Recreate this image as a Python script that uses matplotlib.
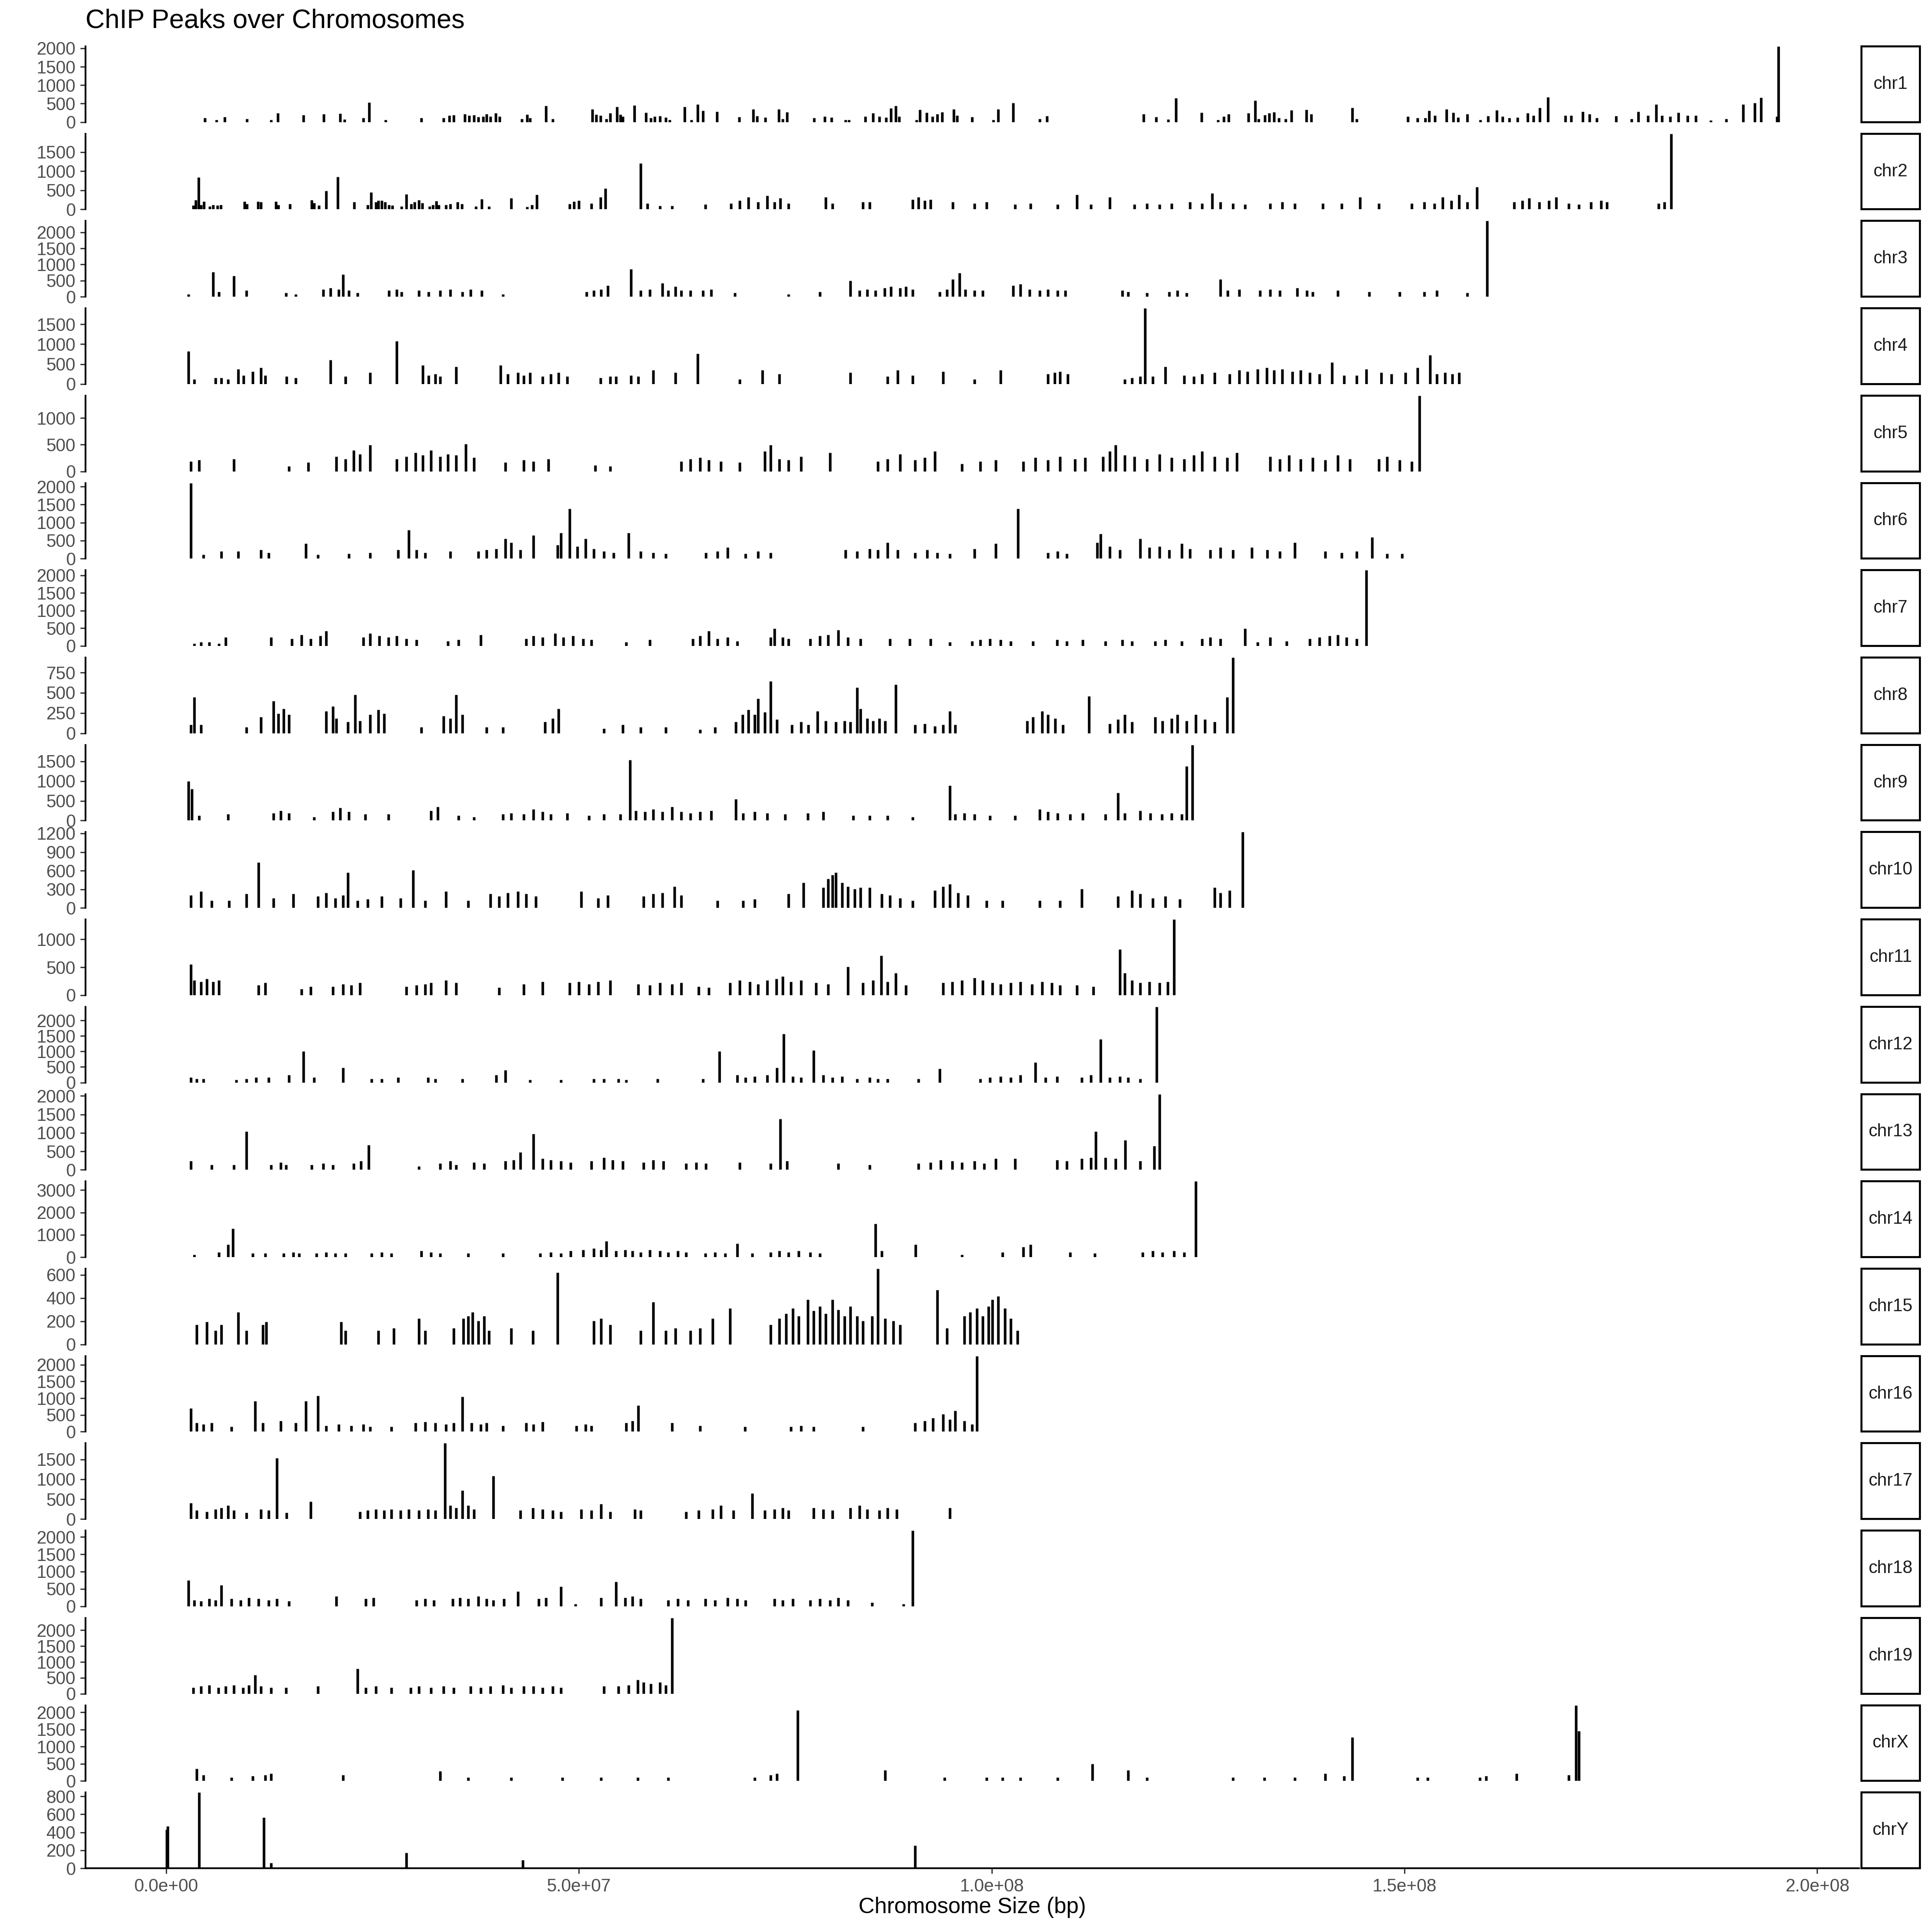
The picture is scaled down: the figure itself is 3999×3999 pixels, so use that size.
import matplotlib
matplotlib.use("Agg")
import matplotlib.pyplot as plt
from matplotlib.ticker import MultipleLocator, FuncFormatter
from matplotlib.patches import Rectangle

plt.rcParams['font.family'] = ['Liberation Sans', 'DejaVu Sans']

# peak positions (Mb) and peak scores
chr1_pos = [4.7, 6.1, 7.1, 9.8, 12.7, 13.5, 16.6, 19.1, 21.1, 21.6, 23.9, 24.6, 26.6, 30.9, 33.6, 34.3, 34.8,
            36.2, 36.7, 37.3, 37.8, 38.4, 38.8, 39.3, 39.9, 40.4, 43.1, 43.7, 44.1, 46.0, 46.8,
            51.6, 52.1, 52.6, 53.3, 53.8, 54.6, 55.0, 55.3, 56.7, 58.1, 58.7, 59.2, 59.8, 60.5, 61.0,
            62.8, 63.6, 64.4, 65.0, 66.7, 69.4, 71.1, 71.6, 72.6, 74.2, 74.7, 75.2, 78.5,
            79.8, 80.6, 82.3, 82.7, 84.7, 85.6, 86.4, 87.2, 87.8, 88.4, 88.8, 90.9, 91.3, 92.1, 92.8, 93.4, 94.0,
            95.4, 95.8, 97.6, 100.2, 100.8, 102.6, 105.8, 106.7,
            118.4, 119.9, 121.4, 122.3, 125.4, 127.4, 128.1, 128.7, 131.1, 131.9, 132.3, 133.1, 133.6, 134.2,
            134.8, 135.6, 136.3, 138.1, 138.7, 143.7, 144.2,
            150.4, 151.6, 152.5, 153.0, 153.7, 155.1, 155.9, 156.5, 157.6, 159.2, 160.1, 161.2, 161.9, 162.7,
            163.7, 164.9, 165.6, 166.4, 167.4, 169.5, 170.2, 171.6, 172.4, 173.3, 175.6, 177.5, 178.3, 179.5,
            180.5, 181.2, 182.2, 183.2, 184.3, 185.3, 187.1, 189.0, 191.0, 192.4, 193.2, 195.1, 195.3]
chr1_val = [109, 65, 140, 90, 65, 250, 190, 225, 235, 80, 110, 535, 65, 110, 110, 175, 190,
            225, 175, 195, 140, 150, 215, 150, 250, 150, 87, 210, 110, 435, 87,
            355, 210, 175, 87, 240, 410, 200, 155, 455, 260, 110, 150, 165, 130, 65,
            415, 65, 485, 315, 290, 140, 350, 165, 130, 350, 87, 270, 110,
            150, 130, 65, 65, 150, 250, 150, 130, 370, 435, 150, 65, 340, 260, 150, 215, 270,
            355, 175, 140, 65, 350, 520, 87, 165,
            220, 140, 78, 645, 260, 65, 150, 225, 240, 590, 87, 195, 240, 270,
            110, 87, 325, 340, 220, 385, 87,
            150, 110, 110, 305, 175, 355, 260, 130, 225, 65, 165, 325, 150, 110,
            130, 240, 175, 390, 675, 175, 175, 280, 215, 110, 165, 87, 280, 175,
            480, 175, 150, 260, 175, 185, 52, 87, 480, 520, 660, 150, 2050]

chr2_pos = [3.3, 3.6, 3.9, 4.2, 4.6, 5.3, 5.7, 6.2, 6.6, 9.5, 9.8, 11.1, 11.5, 13.3, 13.6, 15.0, 17.6, 17.9,
            18.5, 19.4, 20.8, 22.8, 24.4, 24.8, 25.4, 25.7, 26.1, 26.5, 27.0, 27.4, 28.5, 29.1, 29.7, 30.1,
            30.6, 31.0, 31.9, 32.3, 32.7, 33.0, 33.9, 34.4, 35.3, 35.8, 37.5, 38.2, 39.1, 41.8, 43.7, 44.3,
            44.9, 48.9, 49.4, 50.0, 51.5, 52.6, 53.2, 57.5, 58.3, 59.8, 61.3, 65.3, 68.4, 69.5, 70.5, 71.7,
            72.8, 73.7, 74.4, 75.4, 79.9, 80.7, 84.4, 85.2, 90.4, 91.1, 91.9, 92.6, 95.3, 97.9, 99.4, 102.8,
            104.7, 108.0, 110.3, 112.0, 114.3, 117.3, 118.8, 120.3, 121.8, 124.0, 125.5, 126.7, 127.7, 129.2,
            130.7, 133.7, 135.2, 136.7, 140.1, 142.4, 144.6, 146.9, 150.9, 152.4, 153.6, 154.6, 155.7, 156.6,
            157.6, 158.8, 163.3, 164.3, 165.1, 166.3, 167.5, 168.4, 169.9, 171.1, 172.6, 173.8, 174.5, 180.8,
            181.5, 182.3]
chr2_val = [105, 250, 840, 125, 210, 85, 125, 105, 115, 210, 150, 210, 190, 210, 125, 150, 250, 170,
            105, 490, 850, 190, 125, 445, 190, 230, 230, 190, 125, 105, 85, 400, 145, 190,
            250, 170, 85, 125, 220, 125, 125, 145, 190, 145, 85, 275, 85, 295, 65, 125,
            380, 145, 210, 230, 160, 325, 550, 1200, 160, 100, 100, 130, 160, 230, 325, 195,
            360, 195, 290, 160, 325, 160, 195, 195, 260, 325, 230, 260, 195, 160, 195, 130,
            160, 130, 390, 130, 325, 130, 160, 130, 160, 195, 160, 420, 195, 160,
            130, 160, 195, 160, 160, 160, 325, 160, 160, 195, 160, 325, 230, 390,
            195, 585, 195, 230, 290, 195, 230, 325, 160, 130, 195, 230, 195, 160,
            195, 1980]

chr3_pos = [2.7, 5.7, 6.4, 8.2, 9.7, 14.5, 15.7, 19.0, 19.9, 20.9, 21.4, 22.1, 23.2, 27.0, 27.9, 28.5, 30.6,
            31.8, 33.2, 34.4, 35.9, 36.9, 38.2, 40.8, 50.9, 51.8, 52.7, 53.5, 56.3, 57.5, 58.6, 60.1, 60.8,
            61.7, 62.4, 63.5, 65.0, 66.0, 68.9, 75.4, 79.2, 82.9, 84.0, 84.9, 85.9, 87.0, 87.8, 88.9, 89.6,
            90.4, 93.7, 94.6, 95.3, 96.1, 96.8, 97.9, 98.9, 102.6, 103.5, 104.6, 105.8, 106.8, 108.0, 108.9,
            115.8, 116.5, 118.8, 121.5, 122.5, 123.6, 127.7, 128.6, 130.0, 132.5, 133.7, 134.9, 137.0, 138.2,
            138.9, 141.9, 145.7, 149.4, 152.4, 153.9, 157.6, 160.0]
chr3_val = [77, 770, 150, 650, 190, 115, 77, 230, 270, 230, 690, 190, 115, 190, 230, 150, 190,
            150, 190, 230, 150, 230, 190, 77, 150, 190, 230, 350, 850, 190, 230, 420, 190,
            310, 190, 190, 190, 230, 115, 77, 150, 500, 190, 230, 190, 270, 310, 270, 310,
            230, 150, 230, 540, 730, 230, 190, 190, 350, 385, 230, 190, 230, 190, 190,
            190, 150, 115, 150, 190, 115, 540, 190, 230, 190, 230, 190, 270, 190,
            150, 190, 150, 150, 150, 190, 115, 2350]

chr4_pos = [2.7, 3.4, 6.0, 6.7, 7.5, 8.7, 9.4, 10.5, 11.5, 12.0, 14.6, 15.7, 19.9, 21.7, 24.7, 27.9, 31.1,
            31.8, 32.6, 33.2, 35.1, 40.5, 41.4, 42.6, 43.3, 44.1, 45.6, 46.6, 47.5, 48.6, 52.6, 53.8, 54.5,
            56.3, 57.2, 59.0, 61.7, 64.4, 69.5, 72.2, 74.3, 82.9, 87.4, 88.6, 90.4, 94.1, 97.9, 101.1, 106.8,
            107.6, 108.3, 109.2, 116.1, 117.0, 118.0, 118.6, 119.5, 121.0, 123.3, 124.5, 125.5, 127.0, 128.8,
            130.0, 131.0, 132.2, 133.3, 134.2, 135.2, 136.4, 137.4, 138.5, 139.7, 141.2, 142.7, 144.2, 145.4,
            147.2, 148.4, 150.1, 151.6, 153.1, 153.9, 154.9, 155.8, 156.6]
chr4_val = [820, 125, 160, 160, 125, 380, 220, 315, 410, 220, 190, 160, 600, 190, 285, 1075, 475,
            220, 250, 190, 440, 475, 250, 285, 220, 285, 190, 250, 285, 190, 160, 190, 190,
            220, 190, 350, 285, 760, 125, 350, 250, 285, 190, 350, 220, 315, 125, 350, 250,
            285, 315, 250, 125, 160, 190, 1900, 190, 440, 220, 190, 250, 285, 250,
            350, 315, 380, 410, 350, 380, 315, 350, 285, 250, 540, 220, 220, 380,
            285, 250, 285, 410, 730, 250, 285, 250, 285]

chr5_pos = [3.0, 4.0, 8.2, 14.9, 17.2, 20.6, 21.7, 22.7, 23.5, 24.7, 27.9, 29.1, 30.2, 31.1, 32.1, 33.2, 34.1,
            35.1, 36.3, 37.3, 41.1, 43.3, 44.5, 46.3, 52.0, 53.8, 62.4, 63.5, 64.7, 65.7, 67.2, 69.5, 72.5,
            73.2, 74.3, 75.4, 76.9, 80.4, 86.2, 87.4, 88.9, 90.7, 91.9, 93.1, 96.4, 98.6, 100.5, 103.8, 105.3,
            106.8, 108.3, 110.1, 111.3, 113.5, 114.3, 115.0, 116.1, 117.3, 118.8, 120.3, 121.8, 123.3, 124.5,
            125.5, 127.0, 128.5, 129.7, 133.7, 134.9, 136.0, 137.4, 138.9, 140.4, 141.9, 143.4, 146.9, 147.9,
            149.4, 150.9, 151.8]
chr5_val = [185, 210, 235, 95, 165, 280, 235, 395, 325, 490, 235, 280, 350, 300, 395, 280, 325,
            300, 510, 255, 165, 210, 185, 235, 115, 95, 185, 235, 255, 210, 185, 165, 375,
            490, 235, 210, 280, 350, 185, 235, 325, 210, 255, 375, 140, 185, 210, 185, 255,
            210, 280, 235, 255, 280, 375, 490, 300, 280, 235, 325, 255, 235, 300,
            375, 280, 255, 350, 280, 235, 300, 235, 255, 210, 300, 235, 235, 280,
            210, 185, 1420]

chr6_pos = [3.0, 4.5, 6.7, 8.7, 11.5, 12.4, 16.9, 18.4, 22.1, 24.7, 28.1, 29.4, 30.3, 31.4, 34.4, 37.8, 38.8,
            40.0, 41.1, 41.8, 42.9, 44.5, 47.4, 47.8, 48.9, 49.8, 50.8, 51.8, 53.0, 54.2, 56.0, 57.5, 59.0,
            60.5, 65.4, 66.8, 68.0, 70.2, 71.7, 73.2, 82.3, 83.7, 85.2, 86.2, 87.4, 88.6, 90.7, 92.2, 93.4,
            94.9, 97.9, 100.5, 103.2, 106.8, 108.0, 109.1, 112.8, 113.2, 114.3, 115.5, 118.0, 119.1, 120.3,
            121.5, 123.0, 124.0, 126.5, 127.7, 129.2, 131.5, 133.4, 134.9, 136.7, 140.4, 142.4, 144.2, 146.1,
            147.9, 149.7]
chr6_val = [2100, 105, 205, 205, 240, 170, 415, 105, 140, 170, 240, 790, 240, 170, 205, 205, 240,
            275, 550, 450, 240, 650, 380, 720, 1380, 345, 550, 275, 205, 170, 720, 205, 170,
            140, 170, 205, 310, 140, 205, 170, 240, 205, 275, 240, 450, 240, 170, 240, 170,
            140, 275, 415, 1380, 170, 205, 140, 450, 690, 345, 240, 550, 310, 345,
            240, 415, 275, 240, 310, 240, 310, 240, 205, 450, 205, 170, 205, 590,
            140, 140]

chr7_pos = [3.4, 4.2, 5.2, 6.4, 7.2, 12.7, 15.2, 16.4, 17.5, 18.7, 19.4, 23.9, 24.7, 25.8, 26.9, 27.9, 29.1,
            30.3, 34.1, 35.4, 38.1, 43.6, 44.5, 45.6, 47.1, 48.1, 49.3, 50.5, 51.5, 55.7, 58.6, 63.8, 64.7,
            65.7, 66.8, 68.0, 69.2, 73.2, 73.7, 74.7, 75.4, 78.0, 79.2, 80.2, 81.4, 82.6, 84.1, 87.7, 90.1,
            92.6, 94.9, 97.6, 98.6, 99.8, 101.1, 102.3, 105.0, 107.9, 109.1, 111.0, 113.8, 115.8, 117.0,
            119.8, 121.0, 123.0, 125.5, 126.5, 127.7, 130.7, 132.2, 133.7, 135.7, 138.5, 139.7, 140.9, 141.9,
            143.0, 144.2, 145.4]
chr7_val = [70, 105, 105, 70, 245, 245, 210, 315, 210, 280, 420, 245, 350, 280, 245, 280, 210,
            175, 140, 175, 315, 210, 280, 245, 350, 245, 280, 210, 175, 105, 175, 210, 280,
            420, 210, 245, 140, 245, 490, 245, 210, 210, 280, 315, 455, 245, 210, 210, 210,
            210, 105, 140, 175, 210, 175, 140, 140, 175, 140, 175, 140, 175, 140,
            140, 175, 140, 210, 245, 210, 490, 105, 245, 140, 210, 245, 280, 315,
            245, 210, 2140]

chr8_pos = [3.0, 3.4, 4.2, 9.7, 11.5, 13.0, 13.6, 14.2, 14.9, 19.4, 20.2, 20.6, 22.0, 22.9, 23.5, 24.7, 25.7,
            26.4, 30.9, 33.6, 34.4, 35.1, 35.9, 38.8, 40.8, 45.9, 46.8, 47.5, 53.0, 55.3, 57.5, 60.5, 64.7,
            66.5, 69.0, 69.8, 70.5, 71.3, 71.7, 72.5, 73.2, 74.0, 75.8, 76.9, 77.8, 78.9, 79.9, 81.1, 82.2,
            82.9, 83.7, 84.1, 84.9, 85.6, 86.4, 87.1, 88.4, 90.7, 91.9, 93.1, 94.1, 94.9, 95.6, 104.3, 105.0,
            106.1, 106.8, 107.7, 108.6, 111.8, 114.3, 115.3, 116.1, 117.0, 119.8, 120.7, 121.8, 122.5, 123.6,
            124.7, 125.8, 127.0, 128.5, 129.2]
chr8_val = [105, 445, 105, 75, 200, 400, 245, 305, 230, 275, 335, 185, 140, 475, 155, 230, 290,
            245, 75, 215, 185, 475, 230, 75, 75, 140, 185, 305, 60, 105, 75, 75, 45,
            75, 140, 230, 290, 230, 430, 260, 640, 170, 105, 140, 105, 275, 155, 140, 155,
            140, 565, 305, 185, 155, 185, 155, 600, 105, 120, 90, 105, 275, 105, 155, 200,
            275, 230, 185, 105, 460, 120, 170, 230, 140, 200, 155, 185, 230, 155,
            230, 170, 140, 445, 935]

chr9_pos = [2.7, 3.1, 4.0, 7.5, 13.0, 13.9, 14.9, 17.9, 20.2, 21.1, 22.1, 24.1, 26.9, 32.1, 32.9, 35.4, 37.3,
            40.8, 41.8, 43.3, 44.5, 45.6, 46.6, 48.6, 51.2, 53.0, 55.0, 56.2, 56.9, 58.0, 59.0, 60.1, 61.3,
            62.4, 63.5, 64.7, 66.0, 69.0, 69.9, 71.3, 72.8, 75.0, 77.7, 79.6, 83.2, 85.2, 87.4, 90.4, 94.9,
            95.6, 96.7, 97.9, 99.8, 102.8, 105.8, 106.8, 108.0, 109.5, 111.0, 113.8, 115.3, 116.1, 118.0,
            119.2, 120.6, 121.8, 123.0, 123.6, 124.3]
chr9_val = [990, 800, 130, 160, 190, 255, 190, 95, 225, 320, 225, 160, 160, 255, 350, 130, 95,
            160, 190, 160, 285, 225, 160, 190, 130, 160, 160, 1530, 255, 225, 285, 225, 350,
            225, 190, 225, 255, 540, 190, 225, 190, 160, 190, 225, 130, 130, 130, 95, 890,
            160, 190, 160, 130, 130, 285, 225, 190, 160, 190, 160, 700, 190, 255,
            190, 160, 190, 160, 1370, 1915]

chr10_pos = [3.0, 4.2, 5.5, 7.6, 9.7, 11.2, 13.0, 15.4, 18.4, 19.4, 20.5, 21.4, 22.0, 23.2, 24.4, 26.1, 28.4,
             29.9, 31.4, 33.9, 36.6, 39.3, 40.3, 41.4, 42.6, 43.6, 44.8, 50.3, 52.3, 53.5, 57.8, 59.0, 60.1,
             61.6, 62.4, 66.8, 69.9, 71.3, 75.4, 77.2, 79.6, 80.2, 80.7, 81.1, 81.9, 82.6, 83.4, 84.1, 85.2,
             86.7, 87.7, 88.9, 90.4, 93.1, 94.1, 94.9, 95.9, 97.1, 99.4, 101.3, 105.8, 108.3, 110.9, 115.3,
             117.0, 118.0, 119.5, 121.0, 122.8, 127.0, 127.7, 128.8, 130.4]
chr10_val = [205, 265, 120, 120, 225, 730, 160, 225, 185, 245, 160, 205, 570, 120, 140, 185, 160,
             610, 120, 265, 120, 225, 185, 245, 265, 225, 185, 265, 160, 205, 185, 225, 245,
             345, 205, 120, 120, 140, 225, 405, 325, 465, 530, 570, 405, 345, 305, 325, 325,
             225, 205, 160, 120, 285, 345, 385, 245, 205, 120, 120, 120, 120, 305, 185,
             285, 225, 160, 185, 140, 325, 245, 285, 1220]

chr11_pos = [3.0, 3.4, 4.2, 4.9, 5.7, 6.4, 11.2, 12.0, 16.4, 17.5, 20.2, 21.4, 22.4, 23.5, 29.1, 30.3, 31.4,
             32.1, 33.9, 35.1, 40.3, 43.3, 45.6, 48.9, 50.0, 51.2, 52.3, 53.8, 57.2, 58.6, 59.8, 61.3, 62.4,
             64.5, 65.7, 68.3, 69.5, 70.7, 71.7, 72.8, 73.9, 74.7, 75.7, 76.9, 78.7, 80.2, 82.6, 84.4, 85.6,
             86.6, 87.4, 88.4, 89.6, 94.1, 95.2, 96.4, 97.9, 98.9, 100.1, 101.1, 102.3, 103.5, 104.9, 106.1,
             107.3, 108.3, 110.3, 112.3, 115.5, 116.1, 117.0, 118.0, 119.1, 120.3, 121.3, 122.1]
chr11_val = [555, 265, 245, 290, 245, 265, 180, 220, 110, 155, 155, 200, 180, 220, 155, 180, 200,
             220, 265, 220, 135, 200, 245, 220, 245, 200, 245, 265, 200, 180, 220, 200, 220,
             155, 135, 220, 265, 245, 200, 265, 290, 335, 245, 265, 220, 200, 510, 220, 265,
             710, 245, 400, 180, 220, 245, 265, 310, 265, 220, 200, 220, 245, 200, 245,
             220, 180, 180, 155, 820, 400, 265, 220, 245, 220, 245, 1355]

chr12_pos = [3.0, 3.7, 4.5, 8.5, 9.7, 10.9, 12.4, 14.9, 16.6, 17.9, 21.4, 24.9, 26.1, 28.1, 31.7, 32.6, 35.9,
             40.0, 41.1, 44.1, 47.8, 51.8, 53.0, 54.8, 55.7, 59.5, 65.0, 67.0, 69.2, 70.2, 71.3, 72.8, 74.0,
             74.8, 75.9, 76.9, 78.4, 79.6, 80.7, 81.9, 83.7, 85.2, 86.2, 87.4, 91.1, 93.7, 98.6, 99.8, 101.1,
             102.3, 103.5, 105.3, 106.5, 107.9, 110.9, 112.0, 113.2, 114.3, 115.5, 116.5, 118.0, 120.0]
chr12_val = [160, 120, 120, 80, 120, 160, 160, 240, 1000, 160, 480, 120, 120, 160, 160, 120, 120,
             240, 400, 80, 80, 120, 120, 120, 80, 120, 120, 1000, 240, 160, 200, 240, 480,
             1560, 200, 160, 1040, 240, 160, 200, 120, 160, 120, 120, 120, 440, 120, 160, 200,
             160, 240, 640, 160, 200, 160, 240, 1400, 160, 200, 160, 120, 2440]

chr13_pos = [3.0, 5.5, 8.2, 9.7, 12.7, 13.9, 14.5, 17.6, 19.0, 20.2, 22.7, 23.6, 24.5, 30.6, 33.2, 34.4, 35.1,
             37.3, 38.5, 41.1, 42.1, 42.9, 44.5, 45.6, 46.6, 47.8, 49.0, 51.5, 53.0, 54.1, 55.3, 57.8, 59.0,
             60.2, 63.0, 64.2, 65.4, 69.5, 73.2, 74.4, 75.2, 81.4, 85.2, 91.1, 92.6, 93.8, 95.2, 96.4, 97.9,
             99.1, 100.5, 102.8, 107.9, 109.1, 110.9, 112.0, 112.6, 113.8, 115.0, 116.2, 118.0, 119.7, 120.3]
chr13_val = [235, 135, 135, 1040, 135, 200, 135, 135, 170, 135, 170, 235, 670, 100, 170, 235, 135,
             200, 170, 235, 270, 470, 975, 300, 270, 235, 200, 235, 335, 270, 235, 200, 270,
             235, 170, 200, 170, 200, 170, 1380, 235, 170, 135, 170, 200, 270, 235, 200, 235,
             170, 300, 300, 270, 235, 300, 335, 1040, 335, 300, 800, 235, 640, 2050]

chr14_pos = [3.4, 6.4, 7.5, 8.1, 10.5, 12.0, 14.2, 15.4, 16.1, 18.2, 19.4, 20.5, 21.7, 24.9, 26.1, 27.3, 30.9,
             32.1, 33.2, 36.6, 40.8, 45.3, 46.6, 47.8, 49.0, 50.5, 51.8, 52.7, 53.3, 54.5, 55.6, 56.5, 57.5,
             58.6, 59.8, 60.8, 62.0, 63.0, 65.3, 66.5, 67.7, 69.2, 71.0, 73.2, 74.3, 75.4, 76.6, 78.0, 79.2,
             85.9, 86.7, 90.8, 96.4, 101.3, 103.8, 104.7, 109.5, 112.5, 118.3, 119.5, 120.7, 122.1, 123.3, 124.7]
chr14_val = [110, 220, 555, 1280, 165, 165, 165, 220, 165, 165, 220, 165, 165, 165, 220, 165, 280,
             220, 165, 165, 165, 165, 220, 165, 280, 335, 390, 335, 720, 280, 335, 280, 220,
             335, 280, 220, 280, 220, 165, 220, 165, 610, 165, 220, 280, 220, 280, 220, 165,
             1500, 280, 555, 110, 220, 445, 555, 220, 165, 220, 280, 220, 280, 220, 3390]

chr15_pos = [3.7, 4.9, 6.0, 6.7, 8.7, 9.7, 11.7, 12.1, 21.2, 21.7, 25.7, 27.6, 30.6, 31.4, 34.8, 36.0, 36.6,
             37.1, 37.8, 38.5, 39.1, 41.8, 44.4, 47.4, 51.8, 52.7, 53.8, 57.5, 59.0, 60.5, 61.7, 63.5, 64.7,
             66.2, 68.3, 73.2, 74.3, 75.1, 75.9, 76.6, 77.7, 78.4, 79.2, 79.9, 80.7, 81.4, 82.2, 82.9, 83.7,
             84.4, 85.5, 86.2, 87.1, 88.1, 88.9, 93.4, 94.6, 96.7, 97.4, 98.2, 98.9, 99.6, 100.1, 100.8, 101.6,
             102.3, 103.1]
chr15_val = [170, 195, 120, 170, 280, 120, 170, 195, 195, 120, 120, 140, 225, 120, 140, 225, 245,
             280, 205, 245, 120, 140, 120, 620, 205, 225, 170, 120, 365, 120, 140, 120, 140,
             225, 310, 170, 225, 265, 310, 245, 385, 290, 330, 265, 385, 300, 245, 330, 245,
             205, 245, 653, 225, 205, 170, 470, 140, 245, 280, 310, 245, 330, 385, 415, 310,
             225, 120]

chr16_pos = [3.0, 3.7, 4.5, 5.5, 7.9, 10.8, 11.7, 13.9, 15.7, 16.9, 18.4, 19.4, 20.9, 22.4, 23.9, 24.7, 27.3,
             30.2, 31.4, 32.6, 33.9, 34.8, 35.9, 37.0, 38.1, 38.8, 40.8, 43.6, 44.5, 45.6, 49.7, 50.8, 51.5,
             55.7, 56.5, 57.2, 61.3, 64.7, 70.1, 75.7, 76.9, 78.4, 84.4, 90.7, 91.9, 92.9, 94.1, 94.9, 95.6,
             96.7, 97.6, 98.2]
chr16_val = [700, 260, 220, 260, 150, 920, 260, 330, 260, 920, 1070, 185, 220, 185, 220, 150, 150,
             260, 295, 260, 220, 260, 1040, 260, 220, 260, 185, 260, 220, 295, 185, 220, 185,
             260, 330, 780, 260, 185, 150, 150, 185, 150, 150, 260, 330, 405, 520, 370, 630,
             330, 220, 2260]

chr17_pos = [3.0, 3.7, 4.9, 6.0, 6.7, 7.5, 8.2, 9.7, 11.5, 12.4, 13.4, 14.6, 17.5, 23.5, 24.4, 25.4, 26.4,
             27.3, 28.4, 29.4, 30.6, 31.7, 32.6, 33.8, 34.4, 35.1, 35.9, 36.6, 37.3, 39.6, 42.9, 44.4, 45.6,
             46.8, 47.8, 50.3, 51.5, 52.7, 53.8, 56.8, 57.5, 63.0, 64.5, 66.2, 67.2, 68.7, 71.0, 72.5, 73.7,
             74.7, 75.4, 78.4, 79.6, 80.7, 82.9, 84.0, 84.9, 86.4, 87.4, 88.5, 94.9]
chr17_val = [400, 220, 185, 250, 280, 345, 220, 155, 250, 220, 1530, 155, 435, 185, 220, 250, 220,
             250, 220, 250, 220, 250, 220, 1906, 345, 280, 720, 345, 250, 1090, 220, 280, 250,
             220, 185, 250, 220, 375, 185, 250, 220, 185, 220, 250, 345, 220, 650, 220, 250,
             280, 220, 280, 250, 220, 280, 345, 250, 220, 280, 250, 280]

chr18_pos = [2.7, 3.4, 4.2, 5.2, 6.0, 6.7, 7.9, 9.0, 10.0, 11.2, 12.4, 13.4, 14.9, 20.6, 24.2, 25.1, 30.3,
             31.4, 32.4, 34.7, 35.6, 36.6, 37.8, 38.8, 39.6, 40.9, 42.6, 45.1, 46.0, 47.8, 49.6, 52.7, 54.5,
             55.6, 56.5, 57.5, 60.8, 62.0, 63.2, 65.3, 66.5, 68.0, 69.2, 70.2, 73.7, 74.7, 75.9, 78.0, 79.2,
             80.4, 81.4, 82.6, 85.5, 89.3, 90.4]
chr18_val = [750, 180, 145, 215, 180, 610, 215, 180, 250, 215, 180, 215, 145, 285, 215, 250, 180,
             215, 180, 215, 250, 215, 285, 215, 180, 215, 430, 215, 250, 570, 70, 250, 710,
             250, 285, 215, 180, 215, 180, 215, 180, 250, 215, 180, 215, 180, 215, 180, 215,
             180, 250, 180, 105, 70, 2180]

chr19_pos = [3.3, 4.2, 5.2, 6.3, 7.2, 8.2, 9.3, 10.0, 10.8, 11.5, 12.7, 14.5, 18.4, 23.2, 24.2, 25.4, 27.3,
             29.6, 30.6, 32.1, 33.6, 34.8, 36.9, 38.1, 39.3, 40.8, 41.8, 43.3, 44.5, 45.6, 46.8, 47.8, 53.0,
             54.8, 56.0, 57.1, 57.8, 58.7, 59.8, 60.5, 61.3]
chr19_val = [195, 235, 275, 195, 235, 275, 195, 275, 590, 235, 195, 195, 235, 785, 195, 235, 195,
             195, 235, 195, 235, 195, 235, 195, 235, 275, 195, 235, 235, 195, 235, 195, 235,
             235, 275, 430, 355, 315, 355, 275, 2390]

chrX_pos = [3.7, 4.5, 7.9, 10.5, 12.0, 12.7, 21.4, 33.2, 36.6, 41.8, 48.0, 52.7, 57.1, 60.8, 71.3, 73.2, 74.0,
            76.5, 87.1, 94.3, 99.4, 101.3, 103.5, 108.0, 112.2, 116.5, 118.8, 129.2, 133.0, 136.7, 140.4,
            142.7, 143.7, 151.6, 152.8, 159.1, 159.9, 163.6, 169.9, 170.8, 171.1]
chrX_val = [360, 180, 105, 140, 180, 215, 180, 285, 105, 105, 105, 105, 105, 105, 105, 180, 215,
            2065, 320, 105, 105, 105, 105, 105, 500, 320, 105, 105, 105, 105, 215,
            140, 1280, 105, 105, 105, 140, 215, 180, 2210, 1460]

chrY_pos = [0.05, 0.2, 4.0, 11.8, 12.7, 29.1, 43.2, 90.7]
chrY_val = [430, 468, 842, 566, 59, 174, 91, 250]

chrom_names = ["chr1", "chr2", "chr3", "chr4", "chr5", "chr6", "chr7", "chr8", "chr9", "chr10", "chr11",
               "chr12", "chr13", "chr14", "chr15", "chr16", "chr17", "chr18", "chr19", "chrX", "chrY"]
y_steps = [500, 500, 500, 500, 500, 500, 500, 250, 500, 300, 500, 500, 500, 1000, 200, 500, 500, 500, 500, 500, 200]
x_ticks = [0, 5e7, 1e8, 1.5e8, 2e8]

peaks = [(chr1_pos, chr1_val), (chr2_pos, chr2_val), (chr3_pos, chr3_val), (chr4_pos, chr4_val),
         (chr5_pos, chr5_val), (chr6_pos, chr6_val), (chr7_pos, chr7_val), (chr8_pos, chr8_val),
         (chr9_pos, chr9_val), (chr10_pos, chr10_val), (chr11_pos, chr11_val), (chr12_pos, chr12_val),
         (chr13_pos, chr13_val), (chr14_pos, chr14_val), (chr15_pos, chr15_val), (chr16_pos, chr16_val),
         (chr17_pos, chr17_val), (chr18_pos, chr18_val), (chr19_pos, chr19_val), (chrX_pos, chrX_val),
         (chrY_pos, chrY_val)]

W = 3999.0
fig = plt.figure(figsize=(W / 300, W / 300), dpi=300)

# panel layout in pixels
left, right = 177, 3848
top, bottom = 96, 3867
gap = 24
n = len(chrom_names)
ph = (bottom - top - gap * (n - 1)) / n
xmax_all = max(max(p) for p, v in peaks) * 1e6
pad_x = 0.05 * xmax_all

tick_col = "#333333"
lab_col = "#4D4D4D"

for i, (name, (pos, val)) in enumerate(zip(chrom_names, peaks)):
    y0 = top + i * (ph + gap)
    ax = fig.add_axes([left / W, 1 - (y0 + ph) / W, (right - left) / W, ph / W])
    ax.vlines([p * 1e6 for p in pos], 0, val, color="black", linewidth=1.3)
    ax.set_xlim(-pad_x, xmax_all + pad_x)
    ax.set_ylim(0, max(val))
    ax.yaxis.set_major_locator(MultipleLocator(y_steps[i]))
    for s in ["top", "right"]:
        ax.spines[s].set_visible(False)
    ax.spines["left"].set_linewidth(0.85)
    ax.tick_params(axis="y", length=2.75, width=0.65, color=tick_col, labelcolor=lab_col,
                   labelsize=8.8, pad=2.2)
    if i == n - 1:
        ax.spines["bottom"].set_linewidth(0.85)
        ax.set_xticks(x_ticks)
        ax.xaxis.set_major_formatter(FuncFormatter(lambda v, p: "%.1e" % v))
        ax.tick_params(axis="x", length=2.75, width=0.65, color=tick_col, labelcolor=lab_col,
                       labelsize=8.8, pad=2.2)
    else:
        ax.spines["bottom"].set_visible(False)
        ax.set_xticks([])
    ax.set_facecolor("none")

    # facet strip on the right
    sx0, sx1 = 3853, 3974
    fig.patches.append(Rectangle((sx0 / W, 1 - (y0 + ph) / W), (sx1 - sx0) / W, ph / W,
                                 transform=fig.transFigure, facecolor="white", edgecolor="black",
                                 linewidth=1.0))
    fig.text((sx0 + sx1) / 2 / W, 1 - (y0 + ph / 2) / W, name, ha="center", va="center",
             fontsize=8.8, color="#1A1A1A")

fig.text(left / W, 1 - 43 / W, "ChIP Peaks over Chromosomes", ha="left", va="center", fontsize=13.2)
fig.text((left + right) / 2 / W, 1 - 3948 / W, "Chromosome Size (bp)", ha="center", va="center",
         fontsize=11)

fig.savefig("out.png", dpi=300, facecolor="white")
